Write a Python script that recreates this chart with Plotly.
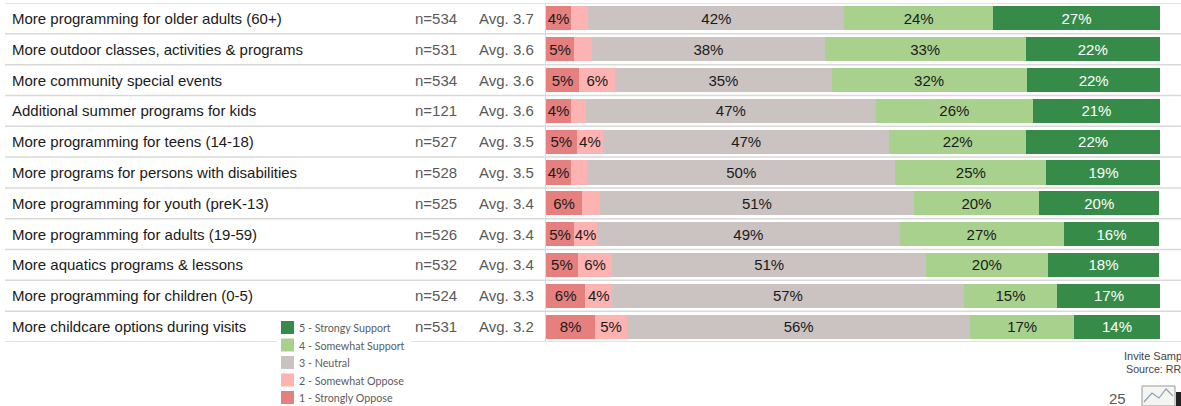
import plotly.graph_objects as go

categories = [
    "More programming for older adults (60+)",
    "More outdoor classes, activities & programs",
    "More community special events",
    "Additional summer programs for kids",
    "More programming for teens (14-18)",
    "More programs for persons with disabilities",
    "More programming for youth (preK-13)",
    "More programming for adults (19-59)",
    "More aquatics programs & lessons",
    "More programming for children (0-5)",
    "More childcare options during visits",
]
n_values = [534, 531, 534, 121, 527, 528, 525, 526, 532, 524, 531]
averages = [3.7, 3.6, 3.6, 3.6, 3.5, 3.5, 3.4, 3.4, 3.4, 3.3, 3.2]

strongly_oppose = [4.1, 4.6, 5.4, 4.1, 5.0, 4.1, 5.9, 4.6, 5.2, 6.4, 8.0]
somewhat_oppose = [2.8, 2.9, 5.9, 2.4, 4.3, 2.6, 2.9, 3.7, 5.6, 4.4, 5.2]
neutral = [41.7, 37.9, 35.2, 47.2, 46.6, 50.2, 51.1, 49.3, 51.1, 57.2, 55.9]
somewhat_support = [24.2, 32.7, 31.8, 25.6, 22.3, 24.6, 20.4, 26.7, 19.8, 15.3, 16.9]
strongly_support = [27.2, 21.9, 21.8, 20.7, 21.8, 18.6, 19.6, 15.6, 18.2, 16.8, 14.0]

series_names = ["1 - Strongly Oppose", "2 - Somewhat Oppose", "3 - Neutral",
                "4 - Somewhat Support", "5 - Strongy Support"]
series_values = [strongly_oppose, somewhat_oppose, neutral, somewhat_support, strongly_support]
series_colors = ["#E6807F", "#FDB3B1", "#CBC3C1", "#A9D18E", "#378B49"]
text_colors = ["#1a1a1a", "#1a1a1a", "#1a1a1a", "#1a1a1a", "#ffffff"]

footer_lines = ["Invite Samp", "Source: RR"]
page_number = "25"

W, H = 1181, 406
FONT = "Arial, Liberation Sans, sans-serif"

def px_x(p):
    return p / W

def px_y(p):
    return 1 - p / H

fig = go.Figure()
for name, vals, col, tcol in zip(series_names, series_values, series_colors, text_colors):
    fig.add_trace(go.Bar(
        y=categories, x=vals, orientation="h", name=name,
        marker=dict(color=col, line=dict(width=0)),
        text=[f"{v:.0f}%" if v >= 3.5 else "" for v in vals],
        textposition="inside", insidetextanchor="middle", textangle=0,
        constraintext="none",
        insidetextfont=dict(family=FONT, size=15, color=tcol),
        showlegend=False, hoverinfo="skip",
    ))

shapes = []
annotations = []
# row separator lines
for k in range(len(categories) + 1):
    shapes.append(dict(type="line", xref="paper", yref="y",
                       x0=px_x(5), x1=1, y0=k - 0.5, y1=k - 0.5,
                       line=dict(color="#D9D9D9", width=1.5), layer="below"))

# row labels, n and average
for cat, n, a in zip(categories, n_values, averages):
    annotations.append(dict(xref="paper", yref="y", x=px_x(10), y=cat, text=cat,
                            xanchor="left", yanchor="middle", showarrow=False,
                            font=dict(family=FONT, size=15, color="#1a1a1a")))
    annotations.append(dict(xref="paper", yref="y", x=px_x(459), y=cat, text=f"n={n}",
                            xanchor="right", yanchor="middle", showarrow=False,
                            font=dict(family=FONT, size=15, color="#595959")))
    annotations.append(dict(xref="paper", yref="y", x=px_x(536), y=cat, text=f"Avg. {a}",
                            xanchor="right", yanchor="middle", showarrow=False,
                            font=dict(family=FONT, size=15, color="#595959")))

# manual legend
shapes.append(dict(type="rect", xref="paper", yref="paper",
                   x0=px_x(277), x1=px_x(411), y0=px_y(406), y1=px_y(318),
                   fillcolor="white", line=dict(width=0), layer="above"))
legend_order = list(range(len(series_names)))[::-1]
for i, idx in enumerate(legend_order):
    cy = 327.5 + i * 17.5
    shapes.append(dict(type="rect", xref="paper", yref="paper",
                       x0=px_x(281), x1=px_x(294), y0=px_y(cy + 6.5), y1=px_y(cy - 6.5),
                       fillcolor=series_colors[idx], line=dict(width=0), layer="above"))
    annotations.append(dict(xref="paper", yref="paper", x=px_x(297), y=px_y(cy),
                            text=series_names[idx], xanchor="left", yanchor="middle",
                            showarrow=False,
                            font=dict(family="Lato, sans-serif", size=10.7, color="#5c5c5c")))

# footer texts
annotations.append(dict(xref="paper", yref="paper", x=px_x(1122), y=px_y(356),
                        text=footer_lines[0], xanchor="left", yanchor="middle", showarrow=False,
                        font=dict(family=FONT, size=11, color="#444444")))
annotations.append(dict(xref="paper", yref="paper", x=px_x(1124), y=px_y(369),
                        text=footer_lines[1], xanchor="left", yanchor="middle",
                        showarrow=False, font=dict(family=FONT, size=10.7, color="#444444")))
annotations.append(dict(xref="paper", yref="paper", x=px_x(1128), y=px_y(398),
                        text=page_number, xanchor="right", yanchor="middle", showarrow=False,
                        font=dict(family=FONT, size=15, color="#595959")))
# small logo placeholder
shapes.append(dict(type="rect", xref="paper", yref="paper",
                   x0=px_x(1142), x1=px_x(1175), y0=px_y(406), y1=px_y(386),
                   fillcolor="#F4F4F0", line=dict(color="#9A9A9A", width=1), layer="above"))
shapes.append(dict(type="path", xref="paper", yref="paper",
                   path=f"M {px_x(1144)} {px_y(402)} L {px_x(1152)} {px_y(393)} L {px_x(1159)} {px_y(398)} L {px_x(1166)} {px_y(389)} L {px_x(1173)} {px_y(396)}",
                   line=dict(color="#8AA0B8", width=1.2), layer="above"))
shapes.append(dict(type="rect", xref="paper", yref="paper",
                   x0=px_x(1176), x1=px_x(1181), y0=px_y(406), y1=px_y(392),
                   fillcolor="#222222", line=dict(width=0), layer="above"))

fig.update_layout(
    width=W, height=H,
    barmode="stack", bargap=0.22,
    margin=dict(l=0, r=0, t=0, b=0),
    paper_bgcolor="white", plot_bgcolor="white",
    xaxis=dict(domain=[px_x(546), px_x(1160)], range=[0, 100], visible=False,
               fixedrange=True),
    yaxis=dict(domain=[px_y(342), px_y(3)], type="category",
               range=[len(categories) - 0.5, -0.5],
               showticklabels=False, showgrid=False, zeroline=False,
               showline=True, linecolor="#D9D9D9", linewidth=1, fixedrange=True),
    shapes=shapes, annotations=annotations,
    showlegend=False,
)

fig.write_html("out.html", config={"displayModeBar": False},
               post_script="document.body.style.margin='0';document.body.style.overflow='hidden';")
